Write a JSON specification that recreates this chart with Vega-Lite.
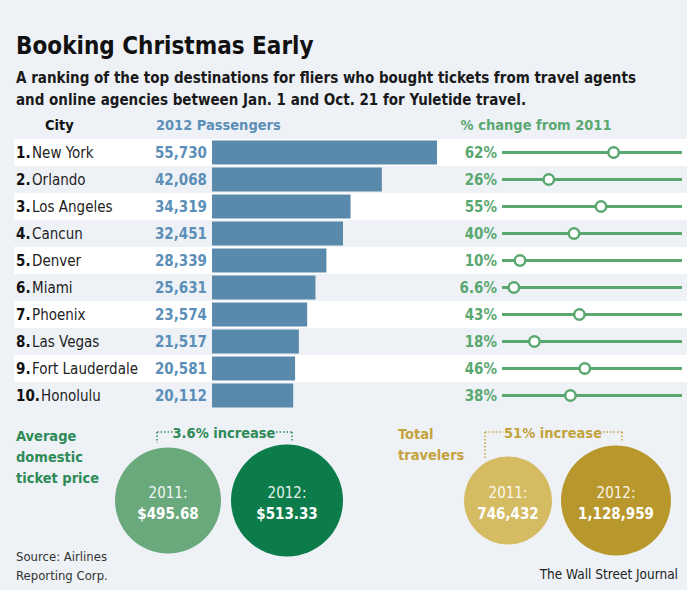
{
  "$schema": "https://vega.github.io/schema/vega-lite/v6.json",
  "background": "#eef2f7",
  "padding": {"left": 14, "top": 34, "right": 5, "bottom": 0},
  "config": {
    "view": {"stroke": null},
    "font": "DejaVu Sans Condensed, DejaVu Sans, sans-serif",
    "text": {"font": "DejaVu Sans Condensed, DejaVu Sans, sans-serif"}
  },
  "title": {
    "text": "Booking Christmas Early",
    "subtitle": [
      "A ranking of the top destinations for fliers who bought tickets from travel agents",
      "and online agencies between Jan. 1 and Oct. 21 for Yuletide travel."
    ],
    "anchor": "start",
    "dx": 2,
    "fontSize": 24,
    "fontWeight": "bold",
    "color": "#111111",
    "font": "DejaVu Sans Condensed, DejaVu Sans, sans-serif",
    "subtitleFont": "DejaVu Sans Condensed, DejaVu Sans, sans-serif",
    "subtitleFontSize": 15,
    "subtitleFontWeight": "bold",
    "subtitleColor": "#1a1a1a",
    "subtitleLineHeight": 22,
    "subtitlePadding": 12,
    "offset": 10
  },
  "datasets": {
    "cities": [
      {"n": 1, "rank": "1.", "city": "New York", "passengers": 55730, "change": 0.62},
      {"n": 2, "rank": "2.", "city": "Orlando", "passengers": 42068, "change": 0.26},
      {"n": 3, "rank": "3.", "city": "Los Angeles", "passengers": 34319, "change": 0.55},
      {"n": 4, "rank": "4.", "city": "Cancun", "passengers": 32451, "change": 0.40},
      {"n": 5, "rank": "5.", "city": "Denver", "passengers": 28339, "change": 0.10},
      {"n": 6, "rank": "6.", "city": "Miami", "passengers": 25631, "change": 0.066},
      {"n": 7, "rank": "7.", "city": "Phoenix", "passengers": 23574, "change": 0.43},
      {"n": 8, "rank": "8.", "city": "Las Vegas", "passengers": 21517, "change": 0.18},
      {"n": 9, "rank": "9.", "city": "Fort Lauderdale", "passengers": 20581, "change": 0.46},
      {"n": 10, "rank": "10.", "city": "Honolulu", "passengers": 20112, "change": 0.38}
    ]
  },
  "spacing": 1,
  "bounds": "full",
  "resolve": {"scale": {"x": "independent", "y": "independent", "color": "independent", "size": "independent"}},
  "vconcat": [
    {
      "hconcat": [
        {
          "width": 198,
          "height": 270,
          "data": {"name": "cities"},
          "title": {"text": "City", "anchor": "start", "dx": 31, "fontSize": 14.5, "fontWeight": "bold", "color": "#111111", "offset": 6},
          "encoding": {"y": {"field": "n", "type": "ordinal", "axis": null, "scale": {"paddingInner": 0, "paddingOuter": 0}}},
          "layer": [
            {"transform": [{"filter": "datum.n % 2 == 1"}], "mark": {"type": "rect", "color": "#ffffff", "x": 0, "x2": 198}},
            {"mark": {"type": "text", "align": "left", "x": 2, "fontSize": 15, "fontWeight": "bold", "color": "#111111"}, "encoding": {"text": {"field": "rank"}}},
            {"transform": [{"filter": "datum.n < 10"}], "mark": {"type": "text", "align": "left", "x": 18, "fontSize": 15, "color": "#222222"}, "encoding": {"text": {"field": "city"}}},
            {"transform": [{"filter": "datum.n == 10"}], "mark": {"type": "text", "align": "left", "x": 27, "fontSize": 15, "color": "#222222"}, "encoding": {"text": {"field": "city"}}}
          ]
        },
        {
          "width": 290,
          "height": 270,
          "data": {"name": "cities"},
          "title": {"text": "2012 Passengers", "anchor": "start", "dx": 1, "fontSize": 14.5, "fontWeight": "bold", "color": "#5b8fb8", "offset": 6},
          "encoding": {"y": {"field": "n", "type": "ordinal", "axis": null, "scale": {"paddingInner": 0, "paddingOuter": 0}}},
          "layer": [
            {"transform": [{"filter": "datum.n % 2 == 1"}], "mark": {"type": "rect", "color": "#ffffff", "x": 0, "x2": 290}},
            {"mark": {"type": "bar", "color": "#5a8aab", "height": {"band": 0.89}},
             "encoding": {"x": {"field": "passengers", "type": "quantitative", "axis": null, "scale": {"domain": [0, 71830], "nice": false}}}},
            {"mark": {"type": "text", "align": "right", "dx": -5, "fontSize": 15, "fontWeight": "bold", "color": "#5b8fb8"},
             "encoding": {"x": {"datum": 0, "type": "quantitative"}, "text": {"field": "passengers", "type": "quantitative", "format": ","}}}
          ]
        },
        {
          "width": 180,
          "height": 270,
          "data": {"name": "cities"},
          "title": {"text": "% change from 2011", "anchor": "start", "dx": 1, "fontSize": 14.5, "fontWeight": "bold", "color": "#5aa870", "offset": 6},
          "encoding": {"y": {"field": "n", "type": "ordinal", "axis": null, "scale": {"paddingInner": 0, "paddingOuter": 0}}},
          "layer": [
            {"transform": [{"filter": "datum.n % 2 == 1"}], "mark": {"type": "rect", "color": "#ffffff", "x": 0, "x2": 185}},
            {"mark": {"type": "rule", "color": "#5aa870", "strokeWidth": 3},
             "encoding": {"x": {"datum": 0, "type": "quantitative", "scale": {"domain": [0, 1], "nice": false}, "axis": null}, "x2": {"datum": 1}}},
            {"mark": {"type": "point", "filled": true, "fill": "#ffffff", "stroke": "#5aa870", "strokeWidth": 2.5, "size": 110, "opacity": 1},
             "encoding": {"x": {"field": "change", "type": "quantitative", "scale": {"domain": [0, 1], "nice": false}, "axis": null}}},
            {"mark": {"type": "text", "align": "right", "dx": -5, "fontSize": 15, "fontWeight": "bold", "color": "#5aa870"},
             "encoding": {"x": {"datum": 0, "type": "quantitative"}, "text": {"field": "change", "type": "quantitative", "format": ".1~%"}}}
          ]
        }
      ],
      "spacing": 0,
      "bounds": "flush",
      "resolve": {"scale": {"x": "independent"}}
    },
    {
      "hconcat": [
        {
          "width": 370,
          "height": 181,
          "data": {"values": [
            {"year": "2011", "yearLabel": "2011:", "value": 495.68},
            {"year": "2012", "yearLabel": "2012:", "value": 513.33}
          ]},
          "layer": [
            {"mark": {"type": "circle", "opacity": 1},
             "encoding": {
               "x": {"field": "year", "type": "ordinal", "axis": null, "scale": {"type": "point", "padding": 0, "range": [154, 273]}},
               "color": {"field": "year", "type": "nominal", "legend": null, "scale": {"range": ["#69a97c", "#0b7c4a"]}},
               "size": {"field": "value", "type": "quantitative", "legend": null, "scale": {"domain": [495.68, 513.33], "range": [11236, 12544], "zero": false, "nice": false}}
             }},
            {"mark": {"type": "text", "dy": -8, "fontSize": 15, "color": "#ffffff", "opacity": 0.9},
             "encoding": {"x": {"field": "year", "type": "ordinal"}, "text": {"field": "yearLabel"}}},
            {"mark": {"type": "text", "dy": 13, "fontSize": 15, "fontWeight": "bold", "color": "#ffffff"},
             "encoding": {"x": {"field": "year", "type": "ordinal"}, "text": {"field": "value", "type": "quantitative", "format": "$.2f"}}},
            {"data": {"values": [{}]}, "mark": {"type": "text", "text": ["Average", "domestic", "ticket price"], "x": 2, "y": 31, "align": "left", "baseline": "alphabetic", "lineHeight": 21, "fontSize": 14.5, "fontWeight": "bold", "color": "#2e8b57"}, "encoding": {}},
            {"data": {"values": [{}]}, "mark": {"type": "text", "text": "3.6% increase", "x": 210, "y": 28, "align": "center", "baseline": "alphabetic", "fontSize": 14.5, "fontWeight": "bold", "color": "#2e8b57"}, "encoding": {}},
            {"data": {"values": [{}]}, "mark": {"type": "rule", "strokeDash": [1.5, 2], "strokeWidth": 1.5, "color": "#2e8b57"},
             "encoding": {"x": {"value": 143}, "x2": {"value": 159}, "y": {"value": 22}, "y2": {"value": 22}}},
            {"data": {"values": [{}]}, "mark": {"type": "rule", "strokeDash": [1.5, 2], "strokeWidth": 1.5, "color": "#2e8b57"},
             "encoding": {"x": {"value": 143}, "x2": {"value": 143}, "y": {"value": 22}, "y2": {"value": 33}}},
            {"data": {"values": [{}]}, "mark": {"type": "rule", "strokeDash": [1.5, 2], "strokeWidth": 1.5, "color": "#2e8b57"},
             "encoding": {"x": {"value": 262}, "x2": {"value": 278}, "y": {"value": 22}, "y2": {"value": 22}}},
            {"data": {"values": [{}]}, "mark": {"type": "rule", "strokeDash": [1.5, 2], "strokeWidth": 1.5, "color": "#2e8b57"},
             "encoding": {"x": {"value": 278}, "x2": {"value": 278}, "y": {"value": 22}, "y2": {"value": 32}}},
            {"data": {"values": [{}]}, "mark": {"type": "text", "text": ["Source: Airlines", "Reporting Corp."], "x": 2, "y": 151, "align": "left", "baseline": "alphabetic", "lineHeight": 19, "fontSize": 13, "color": "#333333"}, "encoding": {}}
          ]
        },
        {
          "width": 298,
          "height": 181,
          "data": {"values": [
            {"year": "2011", "yearLabel": "2011:", "value": 746432},
            {"year": "2012", "yearLabel": "2012:", "value": 1128959}
          ]},
          "layer": [
            {"mark": {"type": "circle", "opacity": 1},
             "encoding": {
               "x": {"field": "year", "type": "ordinal", "axis": null, "scale": {"type": "point", "padding": 0, "range": [124, 232]}},
               "color": {"field": "year", "type": "nominal", "legend": null, "scale": {"range": ["#d5bb62", "#b8982c"]}},
               "size": {"field": "value", "type": "quantitative", "legend": null, "scale": {"domain": [746432, 1128959], "range": [7744, 12100], "zero": false, "nice": false}}
             }},
            {"mark": {"type": "text", "dy": -8, "fontSize": 15, "color": "#ffffff", "opacity": 0.9},
             "encoding": {"x": {"field": "year", "type": "ordinal"}, "text": {"field": "yearLabel"}}},
            {"mark": {"type": "text", "dy": 13, "fontSize": 15, "fontWeight": "bold", "color": "#ffffff"},
             "encoding": {"x": {"field": "year", "type": "ordinal"}, "text": {"field": "value", "type": "quantitative", "format": ","}}},
            {"data": {"values": [{}]}, "mark": {"type": "text", "text": ["Total", "travelers"], "x": 14, "y": 29, "align": "left", "baseline": "alphabetic", "lineHeight": 21, "fontSize": 14.5, "fontWeight": "bold", "color": "#c4a33c"}, "encoding": {}},
            {"data": {"values": [{}]}, "mark": {"type": "text", "text": "51% increase", "x": 169, "y": 28, "align": "center", "baseline": "alphabetic", "fontSize": 14.5, "fontWeight": "bold", "color": "#c4a33c"}, "encoding": {}},
            {"data": {"values": [{}]}, "mark": {"type": "rule", "strokeDash": [1.5, 2], "strokeWidth": 1.5, "color": "#c4a33c"},
             "encoding": {"x": {"value": 101}, "x2": {"value": 119}, "y": {"value": 22}, "y2": {"value": 22}}},
            {"data": {"values": [{}]}, "mark": {"type": "rule", "strokeDash": [1.5, 2], "strokeWidth": 1.5, "color": "#c4a33c"},
             "encoding": {"x": {"value": 101}, "x2": {"value": 101}, "y": {"value": 22}, "y2": {"value": 50}}},
            {"data": {"values": [{}]}, "mark": {"type": "rule", "strokeDash": [1.5, 2], "strokeWidth": 1.5, "color": "#c4a33c"},
             "encoding": {"x": {"value": 219}, "x2": {"value": 238}, "y": {"value": 22}, "y2": {"value": 22}}},
            {"data": {"values": [{}]}, "mark": {"type": "rule", "strokeDash": [1.5, 2], "strokeWidth": 1.5, "color": "#c4a33c"},
             "encoding": {"x": {"value": 238}, "x2": {"value": 238}, "y": {"value": 22}, "y2": {"value": 31}}},
            {"data": {"values": [{}]}, "mark": {"type": "text", "text": "The Wall Street Journal", "x": 294, "y": 169, "align": "right", "baseline": "alphabetic", "fontSize": 13.5, "color": "#222222"}, "encoding": {}}
          ]
        }
      ],
      "spacing": 0,
      "bounds": "flush",
      "resolve": {"scale": {"x": "independent", "color": "independent", "size": "independent"}}
    }
  ]
}
